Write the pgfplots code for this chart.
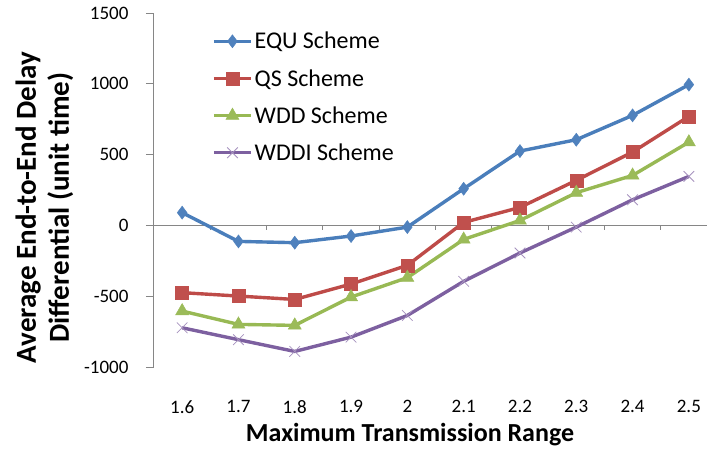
\documentclass[border=0pt]{standalone}
\usepackage{pgfplots}
\pgfplotsset{compat=1.18}
\usepackage{fontspec}
\setmainfont{Carlito}
\definecolor{axgray}{HTML}{868686}
\definecolor{cblue}{HTML}{4A7EBB}
\definecolor{cred}{HTML}{BE4B48}
\definecolor{cgreen}{HTML}{98B954}
\definecolor{cpurple}{HTML}{7D60A0}
\definecolor{mblue}{HTML}{4F81BD}
\definecolor{mred}{HTML}{C0504D}
\definecolor{mgreen}{HTML}{9BBB59}
\definecolor{mpurple}{HTML}{8064A2}
\begin{document}
\begin{tikzpicture}
\begin{axis}[
  at={(0pt,0pt)}, anchor=south west,
  scale only axis, width=553pt, height=354pt,
  xmin=0.5, xmax=10.322, ymin=-1000, ymax=1500,
  clip=false,
  axis x line*=bottom, axis y line*=left,
  x axis line style={draw=none},
  y axis line style={axgray, line width=1pt, -},
  xtick={1,2,3,4,5,6,7,8,9,10},
  xticklabels={1.6,1.7,1.8,1.9,2,2.1,2.2,2.3,2.4,2.5},
  major x tick style={draw=none},
  xticklabel style={font=\fontsize{19}{23}\selectfont, yshift=-22pt},
  ytick={-1000,-500,0,500,1000,1500},
  yticklabels={-1000,-500,0,500,1000,1500},
  yticklabel style={font=\fontsize{19}{23}\selectfont, xshift=-14pt},
  major y tick style={axgray, line width=1pt},
  tick align=outside, major tick length=8pt,
  xlabel={Maximum Transmission Range},
  xlabel style={font=\bfseries\fontsize{26}{30}\selectfont, at={(axis description cs:0.463,-0.192)}, anchor=center},
  ylabel={Average End-to-End Delay\\Differential (unit time)},
  ylabel style={font=\bfseries\fontsize{29}{33}\selectfont, align=center, at={(axis description cs:-0.198,0.4506)}, anchor=center},
  legend style={draw=none, fill=none, at={(axis description cs:0.105,0.952)}, anchor=north west,
    font=\fontsize{24}{28}\selectfont, row sep=15pt, inner sep=0pt, nodes={inner xsep=2pt}},
  legend cell align=left,
  legend image code/.code={\draw[mark repeat=2,mark phase=2,#1] plot coordinates {(0pt,0pt) (18.5pt,0pt) (37pt,0pt)};},
]
\draw[axgray, line width=1pt] (axis cs:0.5,0) -- (axis cs:10.322,0);
\pgfplotsinvokeforeach{1.5,2.5,3.5,4.5,5.5,6.5,7.5,8.5,9.5}{
  \draw[axgray, line width=1pt] (axis cs:#1,0) -- ++(0pt,-5pt);
}
\addplot[cblue, line width=3.4pt, mark=diamond*, mark size=6.5pt, mark options={fill=mblue, draw=mblue, line width=0.5pt}]
  coordinates {(1,90) (2,-113) (3,-122) (4,-75) (5,-12) (6,259) (7,525) (8,605) (9,777) (10,994)};
\addlegendentry{EQU Scheme}
\addplot[cred, line width=3.4pt, mark=square*, mark size=6.5pt, mark options={fill=mred, draw=mred, line width=0.5pt}]
  coordinates {(1,-475) (2,-499) (3,-523) (4,-414) (5,-282) (6,21) (7,127) (8,318) (9,518) (10,770)};
\addlegendentry{QS Scheme}
\addplot[cgreen, line width=3.4pt, mark=triangle*, mark size=7.5pt, mark options={fill=mgreen, draw=mgreen, line width=0.5pt}]
  coordinates {(1,-605) (2,-699) (3,-706) (4,-506) (5,-369) (6,-99) (7,35) (8,231) (9,353) (10,588)};
\addlegendentry{WDD Scheme}
\addplot[cpurple, line width=3.4pt, mark=x, mark size=7.5pt, mark options={draw=mpurple!70, line width=0.8pt}]
  coordinates {(1,-723) (2,-807) (3,-890) (4,-789) (5,-636) (6,-395) (7,-195) (8,-12) (9,181) (10,346)};
\addlegendentry{WDDI Scheme}
\end{axis}
\pgfresetboundingbox
\path[use as bounding box] (-154pt,-84pt) rectangle (553pt,367pt);
\end{tikzpicture}
\end{document}
